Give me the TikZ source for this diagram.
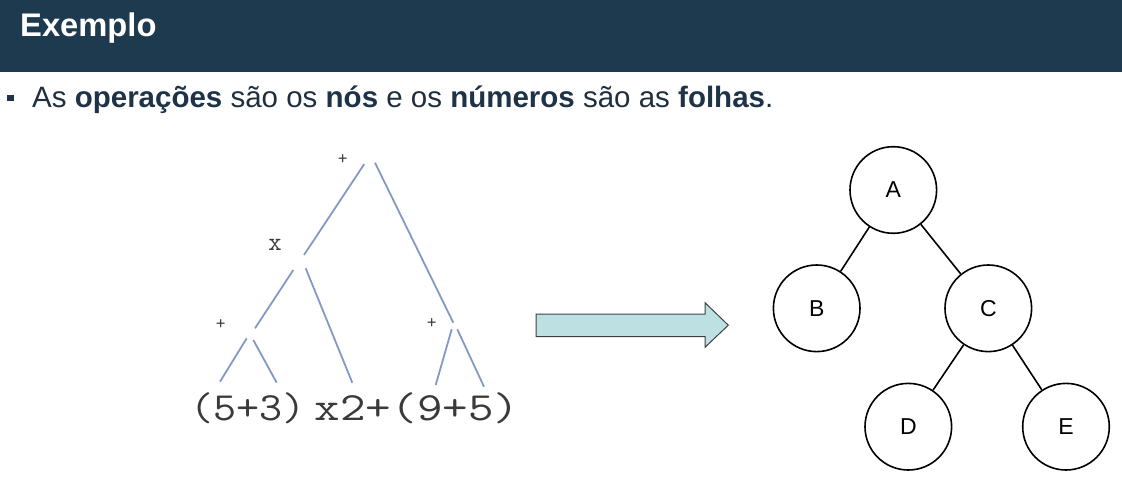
\documentclass[tikz,border=0pt]{standalone}
\usepackage{graphicx}
\usepackage{fontspec}
\setmainfont{Liberation Sans}
\definecolor{hdr}{HTML}{1E3A4F}
\definecolor{txt}{HTML}{1F2F3F}
\definecolor{bold}{HTML}{1E3348}
\definecolor{treeblue}{HTML}{8498C6}
\definecolor{arrowfill}{HTML}{BDE1E3}
\definecolor{exprgray}{HTML}{3A3A3A}
\begin{document}
\begin{tikzpicture}[x=1pt,y=-1pt,
  opline/.style={draw=treeblue,line width=1.8pt},
  oplabel/.style={font=\ttfamily\fontsize{19}{19}\selectfont,text=exprgray,inner sep=0pt,anchor=base},
  exprtext/.style={anchor=base west,inner sep=0pt,text=exprgray},
  treenode/.style={circle,draw=black,line width=1.6pt,minimum size=86.6pt,inner sep=0pt,font=\fontsize{23}{23}\selectfont},
  treeedge/.style={draw=black,line width=1.6pt}]
\useasboundingbox (0,0) rectangle (1122,484);
% header
\fill[hdr] (0,0) rectangle (1122,72);
\node[anchor=base west,inner sep=0pt,text=white,font=\bfseries\fontsize{32.7}{32.7}\selectfont] (title) at (20,36.7) {Exemplo};
% bullet
\fill[bold] (7,95) rectangle (13.5,101.5);
\node[anchor=base west,inner sep=0pt,text=txt,font=\fontsize{29.5}{29.5}\selectfont] (bullet) at (32,107.3)
  {As {\bfseries\color{bold}operações} são os {\bfseries\color{bold}nós} e os {\bfseries\color{bold}números} são as {\bfseries\color{bold}folhas}.};
% left expression tree
\node[oplabel] (p1) at (342.7,164.3) {+};
\node[oplabel,font=\ttfamily\fontsize{26}{26}\selectfont] (mul) at (275,250) {x};
\node[oplabel] (p2) at (220.7,329.3) {+};
\node[oplabel] (p3) at (431.7,328.7) {+};
\node[exprtext] (expr1) at (190,420)
  {\scalebox{1.12}[1]{\ttfamily\fontsize{40}{40}\selectfont (5+3)}};
\node[exprtext] (expr2) at (314.7,420)
  {\scalebox{1.24}[1]{\ttfamily\fontsize{40}{40}\selectfont x2+(9+5)}};
\coordinate (r1a) at (364.3,164);   \coordinate (r1b) at (304,255);
\coordinate (r2a) at (375,162.7);   \coordinate (r2b) at (453.3,322.7);
\coordinate (m1a) at (293.3,270);   \coordinate (m1b) at (255,328.3);
\coordinate (m2a) at (305.7,268.3); \coordinate (m2b) at (352.3,382.7);
\coordinate (a1a) at (246.7,338.3); \coordinate (a1b) at (220,381.7);
\coordinate (a2a) at (253.3,340);   \coordinate (a2b) at (276.7,382.7);
\coordinate (b1a) at (451.7,329.3); \coordinate (b1b) at (435.7,385);
\coordinate (b2a) at (457.3,329.3); \coordinate (b2b) at (484,386.7);
\draw[opline] (r1a) -- (r1b);
\draw[opline] (r2a) -- (r2b);
\draw[opline] (m1a) -- (m1b);
\draw[opline] (m2a) -- (m2b);
\draw[opline] (a1a) -- (a1b);
\draw[opline] (a2a) -- (a2b);
\draw[opline] (b1a) -- (b1b);
\draw[opline] (b2a) -- (b2b);
% big arrow
\draw[fill=arrowfill,draw=black!75,line width=1pt,line join=miter]
  (536,314) -- (705,314) -- (705,302.7) -- (728.3,325.2) -- (705,347.3) -- (705,336.7) -- (536,336.7) -- cycle;
% right tree
\node[treenode] (A) at (893.3,190) {A};
\node[treenode] (B) at (816.7,308.3) {B};
\node[treenode] (C) at (988.3,308.3) {C};
\node[treenode] (D) at (908.3,426.7) {D};
\node[treenode] (E) at (1066,426.7) {E};
\draw[treeedge] (A) -- (B);
\draw[treeedge] (A) -- (C);
\draw[treeedge] (C) -- (D);
\draw[treeedge] (C) -- (E);
\end{tikzpicture}
\end{document}
